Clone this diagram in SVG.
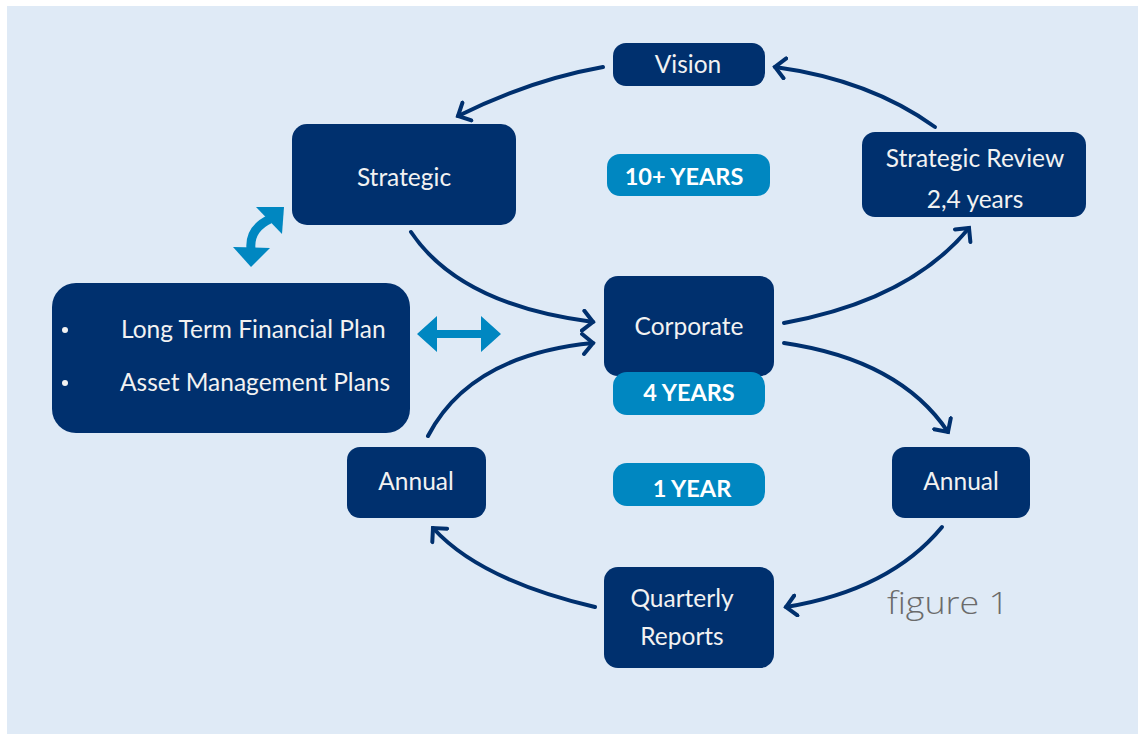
<svg xmlns="http://www.w3.org/2000/svg" width="1140" height="735" viewBox="0 0 1140 735">
<style>
.node{fill:#00306e}
.pill{fill:#0087c1}
.t{font-family:Lato,"Open Sans","Liberation Sans",sans-serif;font-size:24.5px;fill:#f2f2f2;text-anchor:middle}
.b{font-family:Lato,"Open Sans","Liberation Sans",sans-serif;font-size:23.5px;font-weight:bold;fill:#ffffff;text-anchor:middle}
.c{fill:none;stroke:#00306e;stroke-width:4;stroke-linecap:round}
</style>
<defs>
<marker id="ah" markerUnits="userSpaceOnUse" markerWidth="24" markerHeight="24" refX="12" refY="12" orient="auto" viewBox="0 0 24 24">
<path d="M2 2 L12 12 L2 22" fill="none" stroke="#00306e" stroke-width="4" stroke-linecap="round" stroke-linejoin="miter"/>
</marker>
</defs>
<rect x="0" y="0" width="1140" height="735" fill="#ffffff"/>
<rect x="7" y="6" width="1131" height="728" fill="#dfeaf6"/>

<g id="connectors">
<path class="c" d="M603 67 Q530 80 458 116" marker-end="url(#ah)"/>
<path class="c" d="M935 127 Q870 80 775 67" marker-end="url(#ah)"/>
<path class="c" d="M411 232 Q460 305 593 322" marker-end="url(#ah)"/>
<path class="c" d="M428 436 Q470 355 593 343" marker-end="url(#ah)"/>
<path class="c" d="M784 323 Q910 300 969 228" marker-end="url(#ah)"/>
<path class="c" d="M784 343 Q900 360 948 432" marker-end="url(#ah)"/>
<path class="c" d="M942 527 Q890 590 786 607" marker-end="url(#ah)"/>
<path class="c" d="M595 607 Q480 580 433 528" marker-end="url(#ah)"/>
<g id="dbl-horizontal" fill="#0087c1">
<polygon points="417,334 437,316 437,330 481,330 481,316 501,334 481,352 481,338 437,338 437,352"/>
</g>
<g id="dbl-curved" fill="#0087c1">
<path d="M251 249 Q249 229 270 219" fill="none" stroke="#0087c1" stroke-width="9"/>
<polygon points="256,207 284,207 282,234"/>
<polygon points="233,247 270,248 251,267"/>
</g>
</g>

<g id="vision"><rect class="node" x="613" y="43" width="152" height="43" rx="13"/><text class="t" x="688" y="73">Vision</text></g>
<g id="strategic"><rect class="node" x="292" y="124" width="224" height="101" rx="15"/><text class="t" x="404" y="186">Strategic</text></g>
<g id="ten-years"><rect class="pill" x="607" y="154" width="163" height="42" rx="13"/><text class="b" x="684" y="185">10+ YEARS</text></g>
<g id="strategic-review"><rect class="node" x="862" y="132" width="224" height="85" rx="13"/><text class="t" x="975" y="167">Strategic Review</text><text class="t" x="975" y="208">2,4 years</text></g>
<g id="corporate"><rect class="node" x="604" y="276" width="170" height="100" rx="14"/><text class="t" x="689" y="335">Corporate</text></g>
<g id="four-years"><rect class="pill" x="613" y="372" width="152" height="43" rx="14"/><text class="b" x="689" y="401">4 YEARS</text></g>
<g id="plans"><rect class="node" x="52" y="283" width="358" height="150" rx="24"/>
<circle cx="65" cy="330" r="3" fill="#f2f2f2"/><circle cx="65" cy="383" r="3" fill="#f2f2f2"/>
<text class="t" x="121" y="338" style="text-anchor:start">Long Term Financial Plan</text>
<text class="t" x="120" y="391" style="text-anchor:start">Asset Management Plans</text></g>
<g id="annual-left"><rect class="node" x="347" y="447" width="139" height="71" rx="13"/><text class="t" x="416" y="490">Annual</text></g>
<g id="one-year"><rect class="pill" x="613" y="463" width="152" height="43" rx="14"/><text class="b" x="692" y="497">1 YEAR</text></g>
<g id="annual-right"><rect class="node" x="892" y="447" width="138" height="71" rx="13"/><text class="t" x="961" y="490">Annual</text></g>
<g id="quarterly"><rect class="node" x="604" y="567" width="170" height="101" rx="14"/><text class="t" x="682" y="607">Quarterly</text><text class="t" x="682" y="645">Reports</text></g>
<text x="887" y="614" textLength="122" lengthAdjust="spacingAndGlyphs" style="font-family:'Open Sans',Lato,sans-serif;font-weight:300;font-size:32px;fill:#6b6b6b">figure 1</text>
</svg>
